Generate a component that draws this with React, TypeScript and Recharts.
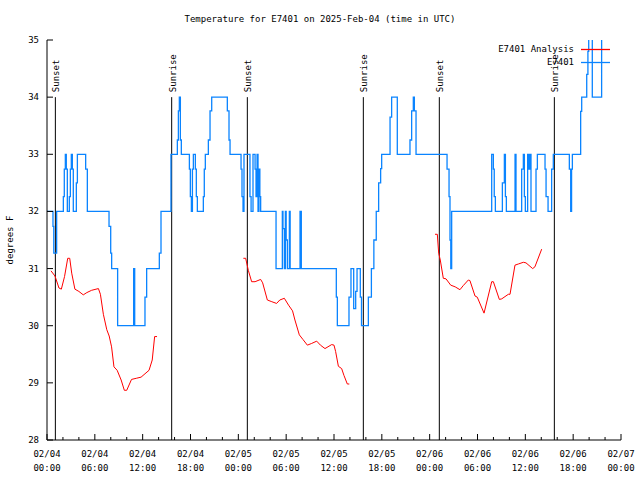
import React from "react";
import { LineChart, Line, XAxis, YAxis, ReferenceLine } from "recharts";

const FONT = '"DejaVu Sans Mono", "Liberation Mono", monospace';

const chartTitle = "Temperature for E7401 on 2025-Feb-04 (time in UTC)";
const seriesNames = ["E7401 Analysis", "E7401"];
const seriesColors = ["#ff0000", "#0a84ff"];
const dayLabels = ["02/04", "02/05", "02/06", "02/07"];
const hourTicks = [0, 2, 4, 6, 8, 10, 12, 14, 16, 18, 20, 22, 24, 26, 28, 30, 32, 34, 36, 38, 40, 42, 44, 46, 48, 50, 52, 54, 56, 58, 60, 62, 64, 66, 68, 70, 72];
const tempTicks = [28, 29, 30, 31, 32, 33, 34, 35];

const sunHours = [1.05, 15.64, 25.13, 39.68, 49.21, 63.64];
const sunNames = ["Sunset", "Sunrise", "Sunset", "Sunrise", "Sunset", "Sunrise"];

// observed station temps (hours since 02/04 00:00 UTC), drawn as steps
const obsHours = [0, 0.75, 0.85, 1.21, 2.05, 2.17, 2.3, 2.42, 2.55, 2.8, 2.93, 3.05, 3.18, 3.3, 3.68, 3.81, 4.85, 5.06, 7.78, 7.99, 8.11, 8.86, 10.87, 11.0, 12.29, 12.5, 14.09, 14.3, 15.55, 16.35, 16.48, 16.6, 16.73, 16.85, 17.86, 17.98, 18.11, 18.24, 18.36, 18.61, 18.73, 18.86, 19.61, 19.73, 19.86, 20.24, 20.45, 20.66, 22.62, 22.83, 22.96, 24.34, 24.46, 24.59, 24.71, 25.46, 25.6, 25.84, 26.1, 26.22, 26.35, 26.47, 26.59, 26.7, 26.8, 28.73, 29.52, 29.6, 29.77, 29.9, 30.0, 30.15, 30.4, 30.5, 31.74, 31.9, 36.29, 36.42, 37.88, 38.13, 38.47, 38.72, 38.89, 39.3, 39.45, 40.31, 40.69, 41.0, 41.3, 41.6, 41.85, 41.98, 43.03, 43.23, 43.94, 45.53, 45.74, 45.95, 46.08, 46.29, 50.18, 50.43, 50.55, 50.65, 50.76, 55.78, 55.99, 56.1, 56.24, 57.12, 57.37, 57.5, 57.62, 58.71, 58.83, 59.54, 59.75, 59.88, 60.0, 60.29, 60.45, 60.55, 60.71, 61.34, 61.51, 62.47, 62.6, 62.85, 63.3, 63.51, 65.52, 65.69, 65.8, 65.9, 66.94, 67.07, 67.7, 67.85, 67.95, 68.4, 69.57, 70.5];
const obsTemps = [32, 31.74, 31.27, 32, 32.26, 32.74, 33, 32.74, 32, 32.26, 32.74, 33, 32.74, 32, 32.5, 33, 32.74, 32, 31.74, 31.27, 31, 30, 31, 30, 30.5, 31, 31.27, 32, 33, 33.25, 33.76, 34, 33.25, 33, 32.74, 32.26, 32, 32.74, 33, 32.74, 32.26, 32, 32.26, 32.74, 33, 33.25, 33.76, 34, 33.76, 33.25, 33, 32.74, 32.26, 32, 33, 32.26, 32, 33, 32.74, 32.26, 33, 32, 32.74, 32.26, 32, 31, 32, 31.7, 31, 32, 31.5, 31, 32, 31, 32, 31, 30.5, 30, 30.5, 31, 30.3, 30.6, 31, 30.5, 30, 30.5, 31, 31.5, 32, 32.5, 32.75, 33, 33.65, 34, 33, 33.25, 33.76, 34, 33.76, 33, 32.74, 32.26, 31.5, 31, 32, 33, 32.74, 32.26, 32, 32.5, 33, 32.26, 32, 33, 32, 32.74, 33, 32.26, 32, 33, 32.74, 33, 32, 32.74, 33, 32.74, 32.26, 32, 32.74, 33, 32.74, 32, 32.74, 33, 33.75, 34, 34.4, 34.8, 35.5, 34, 35.5, 35.5];

// analysis temps, null breaks the line between runs
const analysisHours = [0.5, 1.0, 1.5, 1.8, 2.2, 2.6, 2.85, 3.1, 3.5, 4.0, 4.55, 5.0, 5.6, 6.45, 6.7, 7.07, 7.5, 7.8, 8.1, 8.4, 8.8, 9.3, 9.7, 10.0, 10.6, 11.2, 11.8, 12.8, 13.2, 13.5, 13.8, 14.0, 24.63, 24.92, 25.25, 25.67, 26.1, 26.8, 27.05, 27.64, 28.2, 28.8, 29.2, 29.77, 30.3, 30.8, 31.1, 31.65, 32.1, 32.66, 33.2, 33.83, 34.3, 34.87, 35.71, 36.0, 36.2, 36.55, 36.96, 37.25, 37.67, 37.92, 40.0, 48.67, 48.96, 49.13, 49.33, 49.71, 50.05, 50.64, 51.2, 51.8, 52.2, 52.85, 53.05, 53.69, 53.97, 54.82, 55.78, 55.99, 56.74, 57.04, 57.87, 58.08, 58.7, 59.12, 59.75, 60.08, 60.92, 61.2, 62.05];
const analysisTemps = [30.96, 30.87, 30.66, 30.64, 30.86, 31.18, 31.18, 30.92, 30.64, 30.6, 30.54, 30.58, 30.62, 30.65, 30.55, 30.2, 29.93, 29.82, 29.63, 29.28, 29.22, 29.05, 28.87, 28.87, 29.06, 29.08, 29.1, 29.22, 29.4, 29.81, 29.81, null, 31.18, 31.18, 30.97, 30.77, 30.77, 30.81, 30.75, 30.45, 30.42, 30.39, 30.45, 30.48, 30.36, 30.26, 30.1, 29.84, 29.76, 29.66, 29.69, 29.73, 29.66, 29.6, 29.67, 29.66, 29.55, 29.29, 29.25, 29.13, 28.98, 28.98, null, 31.6, 31.6, 31.27, 31.15, 30.83, 30.82, 30.71, 30.68, 30.63, 30.7, 30.8, 30.79, 30.52, 30.5, 30.22, 30.77, 30.77, 30.46, 30.47, 30.55, 30.55, 31.06, 31.08, 31.11, 31.1, 31.0, 31.03, 31.34];

const obsData = obsHours.map((h, i) => ({ h, t: obsTemps[i] }));
const analysisData = analysisHours.map((h, i) => ({ h, t: analysisTemps[i] }));

const hourLabel = (h: number) => String(h % 24).padStart(2, "0") + ":00";

function BottomTick({ x, y, payload }: any) {
    const h = payload.value;
    const major = h % 6 === 0;
    return (
        <g>
            <line x1={x} x2={x} y1={y} y2={y - (major ? 6 : 3)} stroke="#000" />
            {major && (
                <text textAnchor="middle" fontFamily={FONT} fontSize={9} fill="#000">
                    <tspan x={x} y={y + 17}>{dayLabels[Math.floor(h / 24)]}</tspan>
                    <tspan x={x} y={y + 31}>{hourLabel(h)}</tspan>
                </text>
            )}
        </g>
    );
}

function TopTick({ x, y, payload }: any) {
    const major = payload.value % 6 === 0;
    return <line x1={x} x2={x} y1={y} y2={y + (major ? 6 : 3)} stroke="#000" />;
}

function LeftTick({ x, y, payload }: any) {
    return (
        <g>
            <line x1={x} x2={x + 6} y1={y} y2={y} stroke="#000" />
            <text x={x - 8} y={y + 3} textAnchor="end" fontFamily={FONT} fontSize={9} fill="#000">
                {payload.value}
            </text>
        </g>
    );
}

function RightTick({ x, y }: any) {
    return <line x1={x} x2={x - 6} y1={y} y2={y} stroke="#000" />;
}

function SunLabel({ viewBox, text }: any) {
    const { x, y } = viewBox;
    return (
        <text
            transform={`translate(${x + 4},${y - 5}) rotate(-90)`}
            fontFamily={FONT}
            fontSize={9}
            fill="#000"
        >
            {text}
        </text>
    );
}

export default function App() {
    return (
        <div style={{ position: "absolute", left: 0, top: 0, width: 640, height: 480, background: "#fff" }}>
            <LineChart width={640} height={480} margin={{ top: 40, right: 19, bottom: 0, left: 0 }}>
                <XAxis
                    xAxisId="bottom"
                    type="number"
                    dataKey="h"
                    domain={[0, 72]}
                    ticks={hourTicks}
                    interval={0}
                    height={40}
                    tickSize={0}
                    tickMargin={0}
                    tickLine={false}
                    axisLine={{ stroke: "#000" }}
                    tick={<BottomTick />}
                />
                <XAxis
                    xAxisId="top"
                    orientation="top"
                    type="number"
                    dataKey="h"
                    domain={[0, 72]}
                    ticks={hourTicks}
                    interval={0}
                    height={0}
                    tickSize={0}
                    tickMargin={0}
                    tickLine={false}
                    axisLine={{ stroke: "#000" }}
                    tick={<TopTick />}
                />
                <YAxis
                    yAxisId="left"
                    type="number"
                    domain={[28, 35]}
                    ticks={tempTicks}
                    allowDataOverflow
                    interval={0}
                    width={47}
                    tickSize={0}
                    tickMargin={0}
                    tickLine={false}
                    axisLine={{ stroke: "#000" }}
                    tick={<LeftTick />}
                    label={({ viewBox }: any) => (
                        <text
                            transform={`translate(13,${viewBox.y + viewBox.height / 2}) rotate(-90)`}
                            textAnchor="middle"
                            fontFamily={FONT}
                            fontSize={9}
                            fill="#000"
                        >
                            degrees F
                        </text>
                    )}
                />
                <YAxis
                    yAxisId="right"
                    orientation="right"
                    type="number"
                    domain={[28, 35]}
                    ticks={tempTicks}
                    interval={0}
                    width={0}
                    tickSize={0}
                    tickMargin={0}
                    tickLine={false}
                    axisLine={{ stroke: "#000" }}
                    tick={<RightTick />}
                />

                {sunHours.map((h, i) => (
                    <ReferenceLine
                        key={i}
                        xAxisId="bottom"
                        yAxisId="left"
                        segment={[{ x: h, y: 28 }, { x: h, y: 34 }]}
                        stroke="#000"
                        strokeWidth={1}
                        label={<SunLabel text={sunNames[i]} />}
                    />
                ))}

                <Line
                    data={analysisData}
                    xAxisId="bottom"
                    yAxisId="left"
                    dataKey="t"
                    type="linear"
                    stroke={seriesColors[0]}
                    strokeWidth={1}
                    dot={false}
                    activeDot={false}
                    connectNulls={false}
                    isAnimationActive={false}
                />
                <Line
                    data={obsData}
                    xAxisId="bottom"
                    yAxisId="left"
                    dataKey="t"
                    type="stepAfter"
                    stroke={seriesColors[1]}
                    strokeWidth={1.3}
                    dot={false}
                    activeDot={false}
                    isAnimationActive={false}
                />
                <Line
                    data={obsData}
                    xAxisId="top"
                    yAxisId="right"
                    dataKey="t"
                    stroke="none"
                    dot={false}
                    activeDot={false}
                    isAnimationActive={false}
                />
            </LineChart>

            <div
                style={{
                    position: "absolute",
                    top: 13,
                    left: 0,
                    width: 640,
                    textAlign: "center",
                    fontFamily: FONT,
                    fontSize: 9,
                    lineHeight: "12px",
                }}
            >
                {chartTitle}
            </div>

            <div style={{ position: "absolute", top: 43, right: 30, fontFamily: FONT, fontSize: 9 }}>
                {seriesNames.map((name, i) => (
                    <div key={name} style={{ display: "flex", alignItems: "center", justifyContent: "flex-end", height: 13 }}>
                        <span style={{ lineHeight: "13px" }}>{name}</span>
                        <svg width={36} height={13} style={{ display: "block" }}>
                            <line x1={7} x2={36} y1={6.5} y2={6.5} stroke={seriesColors[i]} strokeWidth={1.3} />
                        </svg>
                    </div>
                ))}
            </div>
        </div>
    );
}
